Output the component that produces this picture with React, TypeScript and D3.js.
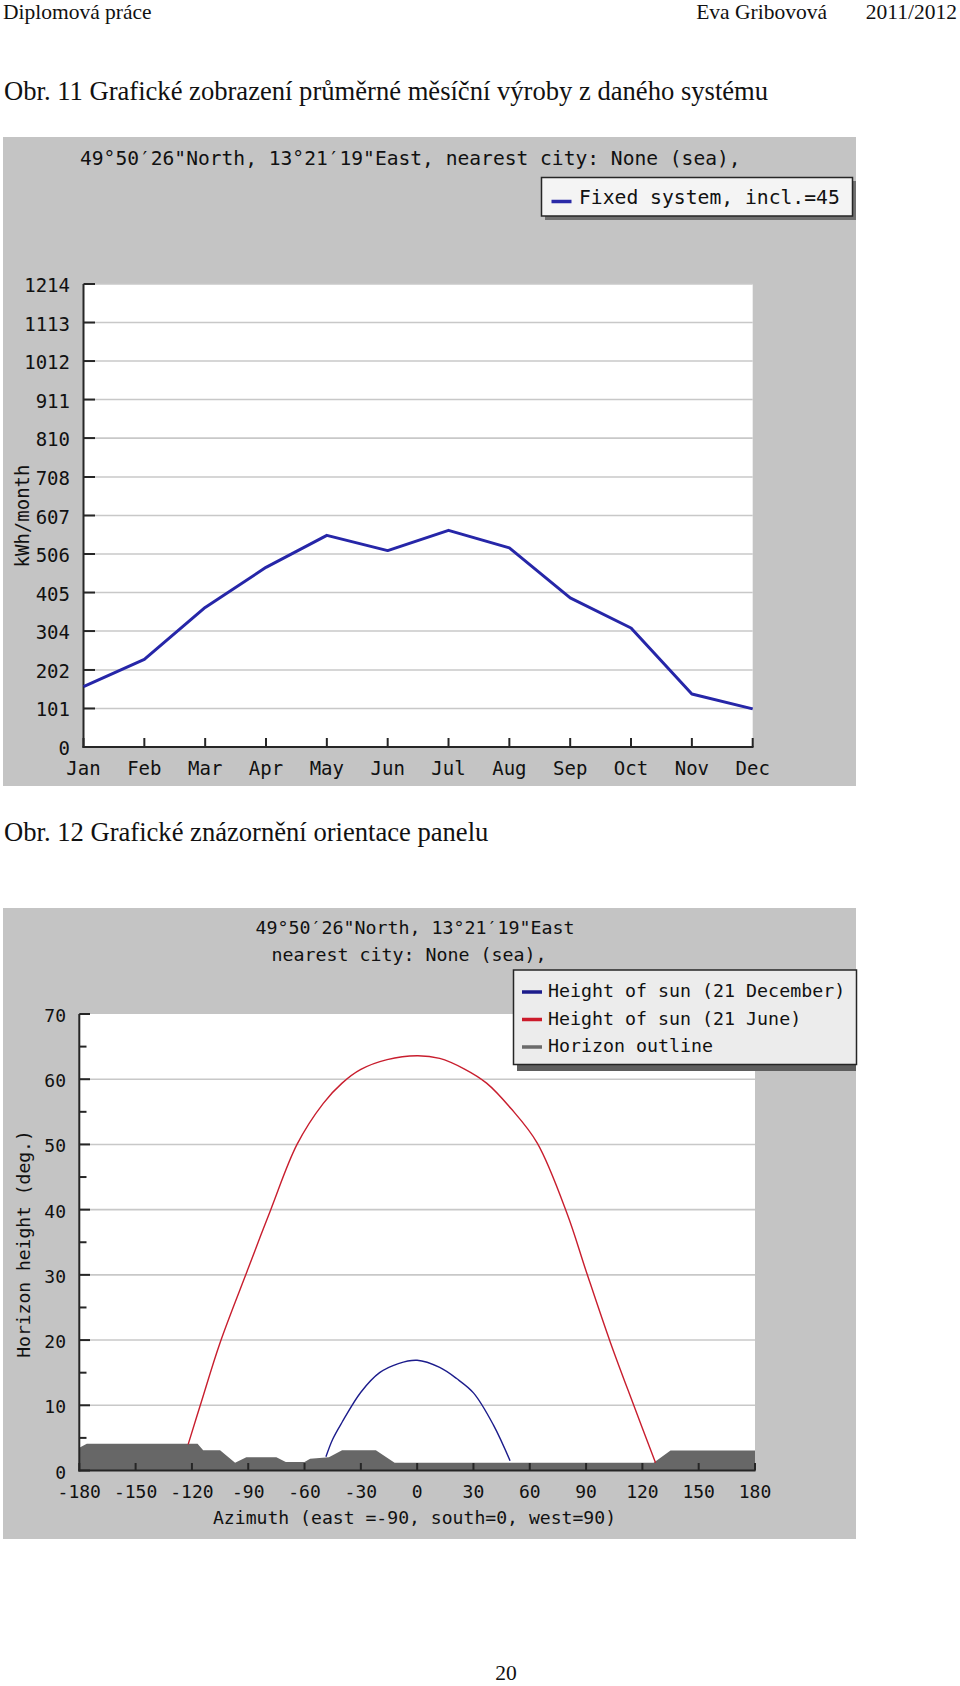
import React from "react";
import * as d3 from "d3";

// ---- Chart 1 data ----
const months = ["Jan", "Feb", "Mar", "Apr", "May", "Jun", "Jul", "Aug", "Sep", "Oct", "Nov", "Dec"];
const monthlyKwh = [158, 230, 366, 471, 555, 515, 568, 522, 391, 312, 139, 100];
const yTicks1 = [0, 101, 202, 304, 405, 506, 607, 708, 810, 911, 1012, 1113, 1214];

// ---- Chart 2 data ----
const xTicks2 = [-180, -150, -120, -90, -60, -30, 0, 30, 60, 90, 120, 150, 180];
const yTicks2 = [0, 10, 20, 30, 40, 50, 60, 70];
const yMinor2 = [5, 15, 25, 35, 45, 55, 65];
const juneSun: [number, number][] = [
  [-122, 4.0], [-115, 10.5], [-105, 19.6], [-90, 31], [-78, 40], [-64, 50], [-50, 56.3],
  [-40, 59.4], [-30, 61.5], [-16, 63], [0, 63.6], [12, 63.2], [25, 61.6], [37, 59.4],
  [50, 55.5], [64, 50.2], [80, 39.3], [90, 30.6], [103, 19.6], [115, 10.3], [127, 1.2],
];
const decemberSun: [number, number][] = [
  [-48.6, 2.1], [-45, 4.8], [-40, 7.4], [-30, 12], [-20, 15], [-10, 16.4], [0, 16.9],
  [12, 15.8], [21, 14.1], [30, 11.9], [40.6, 7.0], [49.5, 1.5],
];
const horizon: [number, number][] = [
  [-180, 3.5], [-176, 4.1], [-117, 4.1], [-114, 3.1], [-105, 3.1], [-97, 1.2], [-94, 1.6],
  [-91, 2.05], [-75, 2.05], [-70, 1.3], [-60, 1.3], [-57, 1.8], [-47, 2.05], [-40, 3.1],
  [-22, 3.1], [-12, 1.2], [126, 1.2], [135, 3.05], [180, 3.05],
];

const legend1 = [{ label: "Fixed system, incl.=45", color: "#2a2aa8" }];
const legend2 = [
  { label: "Height of sun (21 December)", color: "#1c1c8c" },
  { label: "Height of sun (21 June)", color: "#cc1a2a" },
  { label: "Horizon outline", color: "#6a6a6a" },
];

const MONO = "'DejaVu Sans Mono', 'Liberation Mono', monospace";
const SERIF = "'Liberation Serif', 'Times New Roman', serif";
const PANEL = "#c4c4c4";
const GRID = "#c8c8c8";
const AXIS = "#262626";

export default function App() {
  // chart 1 scales
  const x1 = d3.scalePoint<string>().domain(months).range([83.5, 752.7]);
  const y1 = d3.scaleLinear().domain([0, 1214]).range([747, 284]);
  const line1 = d3
    .line<number>()
    .x((_, i) => x1(months[i]) as number)
    .y((d) => y1(d));

  // chart 2 scales
  const x2 = d3.scaleLinear().domain([-180, 180]).range([79.3, 755]);
  const y2 = d3.scaleLinear().domain([0, 70]).range([1470.5, 1014]);
  const sunLine = d3
    .line<[number, number]>()
    .x((d) => x2(d[0]))
    .y((d) => y2(d[1]))
    .curve(d3.curveCatmullRom.alpha(0.5));
  const horizonArea = d3
    .area<[number, number]>()
    .x((d) => x2(d[0]))
    .y0(y2(0))
    .y1((d) => y2(d[1]));

  return (
    <svg
      width={960}
      height={1686}
      style={{ position: "absolute", left: 0, top: 0, background: "#fff" }}
    >
      <rect x={0} y={0} width={960} height={1686} fill="#fff" />
      {/* page header */}
      <text x={3} y={19} fontFamily={SERIF} fontSize={21.5} fill="#111">Diplomová práce</text>
      <text x={827} y={19} fontFamily={SERIF} fontSize={21.5} fill="#111" textAnchor="end">
        Eva Gribovová
      </text>
      <text x={957} y={19} fontFamily={SERIF} fontSize={21.5} fill="#111" textAnchor="end">
        2011/2012
      </text>
      <text x={4} y={100} fontFamily={SERIF} fontSize={26.6} fill="#111">
        Obr. 11 Grafické zobrazení průměrné měsíční výroby z daného systému
      </text>

      {/* ---------- Chart 1 ---------- */}
      <rect x={3} y={137} width={853} height={649} fill={PANEL} />
      <text x={80} y={158} fontFamily={MONO} fontSize={19.6} fill="#111" dominantBaseline="central">
        49°50′26"North, 13°21′19"East, nearest city: None (sea),
      </text>
      {/* legend 1 */}
      <rect x={545} y={181} width={311} height={39} fill="#707070" />
      <rect x={541.5} y={177.5} width={311} height={38.5} fill="#f4f4f4" stroke={AXIS} strokeWidth={1.5} />
      {legend1.map((l, i) => (
        <g key={l.label}>
          <line x1={551.5} x2={571.5} y1={201.5 + i * 27} y2={201.5 + i * 27} stroke={l.color} strokeWidth={3.5} />
          <text x={579} y={197 + i * 27} fontFamily={MONO} fontSize={19.7} fill="#111" dominantBaseline="central">
            {l.label}
          </text>
        </g>
      ))}
      {/* plot area */}
      <rect x={83.5} y={284} width={752.7 - 83.5} height={747 - 284} fill="#fff" />
      {yTicks1.slice(1).map((t) => (
        <line key={t} x1={83.5} x2={752.7} y1={y1(t)} y2={y1(t)} stroke={GRID} strokeWidth={1.6} />
      ))}
      {yTicks1.map((t) => (
        <g key={"yt" + t}>
          <line x1={83.5} x2={95} y1={y1(t)} y2={y1(t)} stroke={AXIS} strokeWidth={2} />
          <text x={70} y={y1(t) + 1} fontFamily={MONO} fontSize={19} fill="#111" textAnchor="end" dominantBaseline="central">
            {t}
          </text>
        </g>
      ))}
      {months.map((m) => (
        <g key={m}>
          <line x1={x1(m)} x2={x1(m)} y1={747} y2={738} stroke={AXIS} strokeWidth={2} />
          <text x={x1(m)} y={768} fontFamily={MONO} fontSize={19} fill="#111" textAnchor="middle" dominantBaseline="central">
            {m}
          </text>
        </g>
      ))}
      <line x1={83.5} x2={83.5} y1={284} y2={748} stroke={AXIS} strokeWidth={2} />
      <line x1={82.5} x2={753.5} y1={747} y2={747} stroke={AXIS} strokeWidth={2} />
      <path d={line1(monthlyKwh) || ""} fill="none" stroke="#2626a8" strokeWidth={3} strokeLinejoin="round" />
      <text
        transform="translate(22,516) rotate(-90)"
        fontFamily={MONO}
        fontSize={19}
        fill="#111"
        textAnchor="middle"
        dominantBaseline="central"
      >
        kWh/month
      </text>

      {/* caption 2 */}
      <text x={4} y={841} fontFamily={SERIF} fontSize={26.6} fill="#111">
        Obr. 12 Grafické znázornění orientace panelu
      </text>

      {/* ---------- Chart 2 ---------- */}
      <rect x={3} y={908} width={853} height={631} fill={PANEL} />
      <text x={415} y={927.5} fontFamily={MONO} fontSize={18.3} fill="#111" textAnchor="middle" dominantBaseline="central">
        49°50′26"North, 13°21′19"East
      </text>
      <text x={409} y={954.5} fontFamily={MONO} fontSize={18.3} fill="#111" textAnchor="middle" dominantBaseline="central">
        nearest city: None (sea),
      </text>
      {/* plot area */}
      <rect x={79.3} y={1014} width={755 - 79.3} height={1470.5 - 1014} fill="#fff" />
      {yTicks2.slice(1, -1).map((t) => (
        <line key={t} x1={79.3} x2={755} y1={y2(t)} y2={y2(t)} stroke={GRID} strokeWidth={1.6} />
      ))}
      <path d={horizonArea(horizon) || ""} fill="#676767" />
      <path d={sunLine(juneSun) || ""} fill="none" stroke="#c81e2e" strokeWidth={1.4} />
      <path d={sunLine(decemberSun) || ""} fill="none" stroke="#1c1c8c" strokeWidth={1.4} />
      {yTicks2.map((t) => (
        <g key={"y2" + t}>
          <line x1={79.3} x2={90} y1={y2(t)} y2={y2(t)} stroke={AXIS} strokeWidth={2} />
          <text x={66} y={y2(t) + 1.5} fontFamily={MONO} fontSize={18} fill="#111" textAnchor="end" dominantBaseline="central">
            {t}
          </text>
        </g>
      ))}
      {yMinor2.map((t) => (
        <line key={"m" + t} x1={79.3} x2={86.5} y1={y2(t)} y2={y2(t)} stroke={AXIS} strokeWidth={2} />
      ))}
      {xTicks2.map((t) => (
        <g key={"x2" + t}>
          <line x1={x2(t)} x2={x2(t)} y1={1470.5} y2={1463} stroke={AXIS} strokeWidth={2} />
          <text x={x2(t)} y={1491} fontFamily={MONO} fontSize={18} fill="#111" textAnchor="middle" dominantBaseline="central">
            {t}
          </text>
        </g>
      ))}
      <line x1={79.3} x2={79.3} y1={1014} y2={1471.5} stroke={AXIS} strokeWidth={2} />
      <line x1={78.3} x2={755.5} y1={1470.5} y2={1470.5} stroke={AXIS} strokeWidth={2.2} />
      <text x={414.5} y={1517.5} fontFamily={MONO} fontSize={18.1} fill="#111" textAnchor="middle" dominantBaseline="central">
        Azimuth (east =-90, south=0, west=90)
      </text>
      <text
        transform="translate(23,1244) rotate(-90)"
        fontFamily={MONO}
        fontSize={18}
        fill="#111"
        textAnchor="middle"
        dominantBaseline="central"
      >
        Horizon height (deg.)
      </text>
      {/* legend 2 */}
      <rect x={517} y={973} width={339} height={98} fill="#5e5e5e" />
      <rect x={513.5} y={970} width={343} height={94.5} fill="#ececec" stroke={AXIS} strokeWidth={1.5} />
      {legend2.map((l, i) => (
        <g key={l.label}>
          <line x1={522} x2={542} y1={992 + i * 27.5} y2={992 + i * 27.5} stroke={l.color} strokeWidth={3.5} />
          <text x={548} y={990.5 + i * 27.5} fontFamily={MONO} fontSize={18.3} fill="#111" dominantBaseline="central">
            {l.label}
          </text>
        </g>
      ))}

      {/* page number */}
      <text x={506} y={1680} fontFamily={SERIF} fontSize={21.5} fill="#111" textAnchor="middle">20</text>
    </svg>
  );
}
